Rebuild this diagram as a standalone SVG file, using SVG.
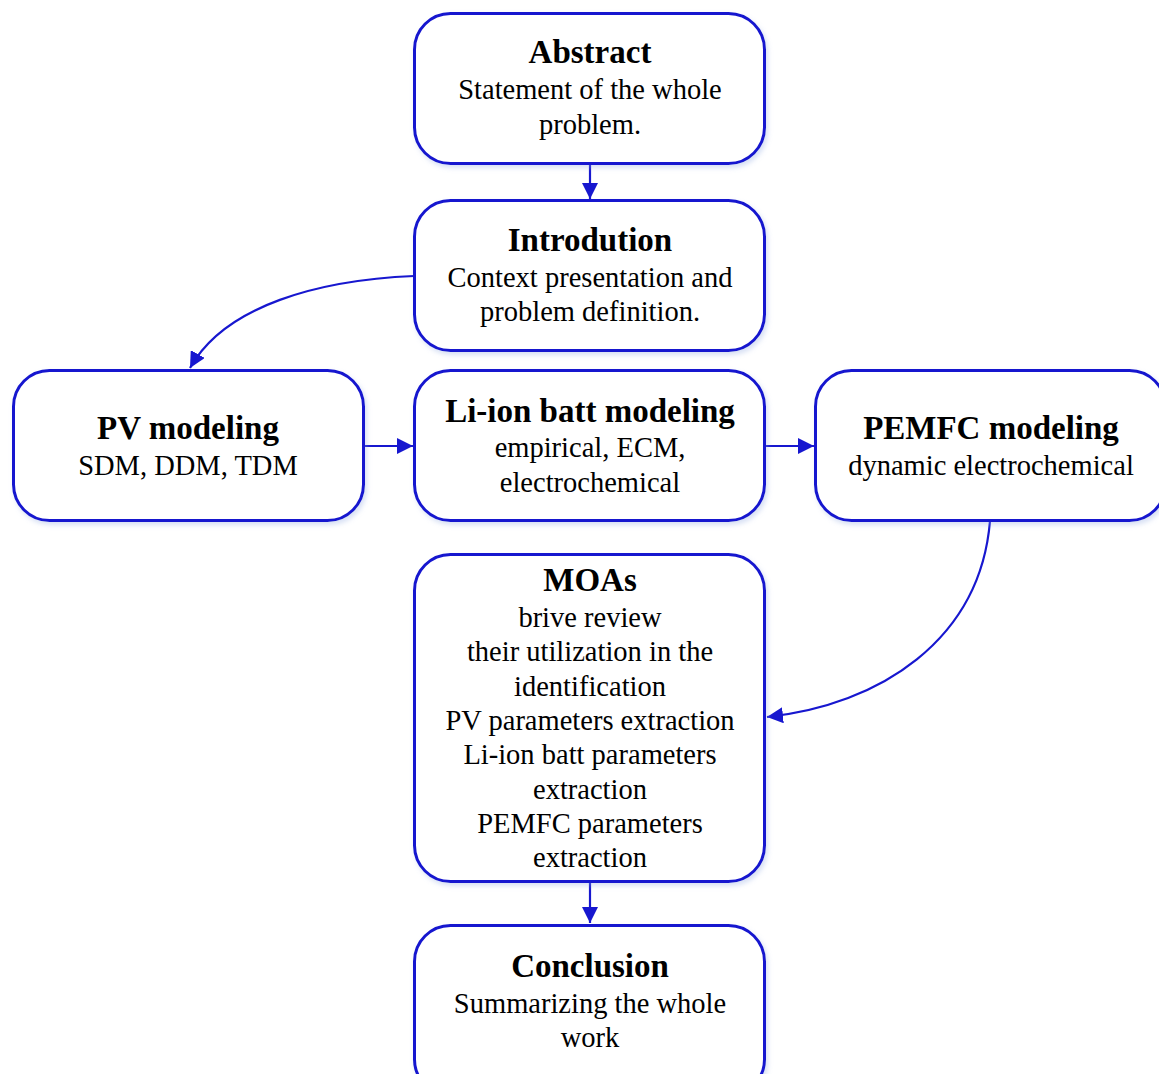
<svg xmlns="http://www.w3.org/2000/svg" width="1159" height="1074" viewBox="0 0 1159 1074">
  <style>
    .box { fill: #ffffff; stroke: #1717cf; stroke-width: 3; filter: url(#shadow); }
    .link { fill: none; stroke: #1717cf; stroke-width: 2.2; }
    .title { font-family: "Liberation Serif", "Times New Roman", serif; font-weight: bold; font-size: 33px; fill: #000; text-anchor: middle; }
    .body { font-family: "Liberation Serif", "Times New Roman", serif; font-size: 28.5px; fill: #000; text-anchor: middle; }
  </style>
  <defs>
    <filter id="shadow" x="-10%" y="-10%" width="120%" height="125%">
      <feDropShadow dx="2" dy="3" stdDeviation="2.5" flood-color="#8aa4e0" flood-opacity="0.35"/>
    </filter>
    <marker id="arrow" viewBox="0 0 16 16" refX="16" refY="8" markerWidth="16" markerHeight="16" markerUnits="userSpaceOnUse" orient="auto">
      <path d="M0,0 L16,8 L0,16 Z" fill="#1717cf"/>
    </marker>
  </defs>

  <!-- connectors -->
  <g id="connectors">
    <path class="link" d="M590,164 L590,199" marker-end="url(#arrow)"/>
    <path class="link" d="M414,276 C320,280 225,305 190,368" marker-end="url(#arrow)"/>
    <path class="link" d="M363,446 L413,446" marker-end="url(#arrow)"/>
    <path class="link" d="M765,446 L814,446" marker-end="url(#arrow)"/>
    <path class="link" d="M990,521 C980,640 880,705 767,717" marker-end="url(#arrow)"/>
    <path class="link" d="M590,882 L590,923" marker-end="url(#arrow)"/>
  </g>

  <g id="abstract">
    <rect class="box" x="414.5" y="13.5" width="350" height="150" rx="36"/>
    <text class="title" x="590" y="63">Abstract</text>
    <text class="body" x="590" y="99">Statement of the whole</text>
    <text class="body" x="590" y="134">problem.</text>
  </g>

  <g id="introduction">
    <rect class="box" x="414.5" y="200.5" width="350" height="150" rx="36"/>
    <text class="title" x="590" y="251">Introdution</text>
    <text class="body" x="590" y="287">Context presentation and</text>
    <text class="body" x="590" y="321">problem definition.</text>
  </g>

  <g id="pv">
    <rect class="box" x="13.5" y="370.5" width="350" height="150" rx="36"/>
    <text class="title" x="188" y="439">PV modeling</text>
    <text class="body" x="188" y="475">SDM, DDM, TDM</text>
  </g>

  <g id="liion">
    <rect class="box" x="414.5" y="370.5" width="350" height="150" rx="36"/>
    <text class="title" x="590" y="422">Li-ion batt modeling</text>
    <text class="body" x="590" y="457">empirical, ECM,</text>
    <text class="body" x="590" y="492">electrochemical</text>
  </g>

  <g id="pemfc">
    <rect class="box" x="815.5" y="370.5" width="350" height="150" rx="36"/>
    <text class="title" x="991" y="439">PEMFC modeling</text>
    <text class="body" x="991" y="475">dynamic electrochemical</text>
  </g>

  <g id="moas">
    <rect class="box" x="414.5" y="554.5" width="350" height="327" rx="36"/>
    <text class="title" x="590" y="591">MOAs</text>
    <text class="body" x="590" y="627">brive review</text>
    <text class="body" x="590" y="661">their utilization in the</text>
    <text class="body" x="590" y="696">identification</text>
    <text class="body" x="590" y="730">PV parameters extraction</text>
    <text class="body" x="590" y="764">Li-ion batt parameters</text>
    <text class="body" x="590" y="799">extraction</text>
    <text class="body" x="590" y="833">PEMFC parameters</text>
    <text class="body" x="590" y="867">extraction</text>
  </g>

  <g id="conclusion">
    <rect class="box" x="414.5" y="925.5" width="350" height="170" rx="36"/>
    <text class="title" x="590" y="977">Conclusion</text>
    <text class="body" x="590" y="1013">Summarizing the whole</text>
    <text class="body" x="590" y="1047">work</text>
  </g>
</svg>
